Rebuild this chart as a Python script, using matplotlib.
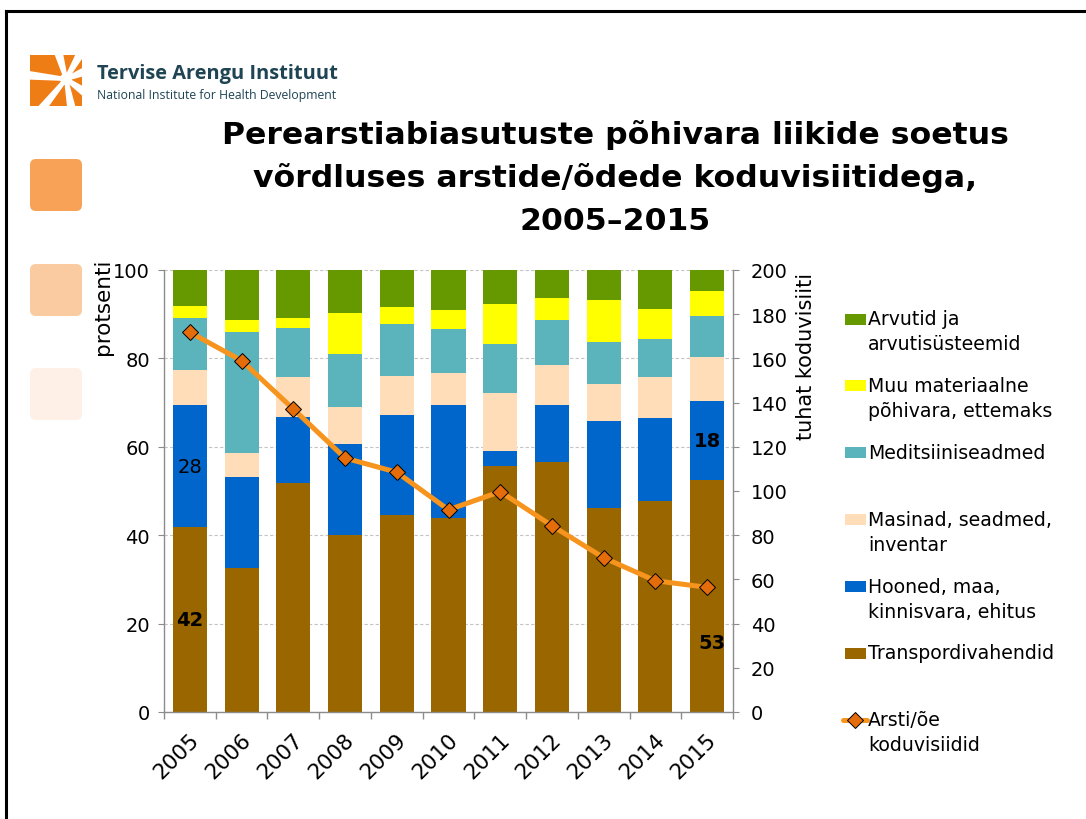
import matplotlib
matplotlib.use('Agg')
import matplotlib.pyplot as plt
import numpy as np
from matplotlib.patches import Rectangle, FancyBboxPatch, Polygon, Circle
from matplotlib.lines import Line2D
from matplotlib.transforms import Affine2D, ScaledTranslation

plt.rcParams['font.family'] = ['DejaVu Sans']

# ---------------- data ----------------
years = ['2005', '2006', '2007', '2008', '2009', '2010', '2011', '2012', '2013', '2014', '2015']
transport = [41.8, 32.6, 51.9, 40.0, 44.5, 43.8, 55.6, 56.5, 46.2, 47.8, 52.6]
hooned    = [27.7, 20.6, 14.8, 20.7, 22.8, 25.7, 3.4, 13.0, 19.7, 18.7, 17.8]
masinad   = [7.9, 5.3, 9.2, 8.4, 8.8, 7.1, 13.2, 9.1, 8.2, 9.2, 9.9]
meditsiin = [11.7, 27.5, 11.0, 11.9, 11.6, 10.1, 11.1, 10.0, 9.6, 8.6, 9.3]
muu       = [2.7, 2.8, 2.2, 9.2, 4.0, 4.3, 8.9, 5.0, 9.5, 6.9, 5.6]
arvutid   = [8.2, 11.2, 10.9, 9.8, 8.3, 9.0, 7.8, 6.4, 6.8, 8.8, 4.8]
visits    = [171.8, 159.0, 137.1, 114.9, 108.5, 91.5, 99.7, 84.3, 69.8, 59.4, 56.4]

series_names = ['Transpordivahendid', 'Hooned, maa,\nkinnisvara, ehitus', 'Masinad, seadmed,\ninventar',
                'Meditsiiniseadmed', 'Muu materiaalne\npõhivara, ettemaks', 'Arvutid ja\narvutisüsteemid']
line_name = 'Arsti/õe\nkoduvisiidid'
title_lines = ['Perearstiabiasutuste põhivara liikide soetus',
               'võrdluses arstide/õdede koduvisiitidega,',
               '2005–2015']

colors = ['#996600', '#0066CC', '#FFDDB9', '#5BB4BC', '#FFFF00', '#669900']
line_color = '#F7941D'
marker_color = '#E46C0A'

# ---------------- figure ----------------
W, H = 1086, 820
fig = plt.figure(figsize=(W / 100, H / 100), dpi=100)
fig.patch.set_facecolor('white')
px = Affine2D().scale(1 / W, -1 / H).translate(0, 1) + fig.transFigure

def fit(t, target_w):
    r = fig.canvas.get_renderer()
    w = t.get_window_extent(r).width
    t.set_fontsize(t.get_fontsize() * target_w / w)

# slide frame
fig.add_artist(Line2D([6, W], [12, 12], transform=px, color='black', lw=2.2))
fig.add_artist(Line2D([6, 6], [12, H], transform=px, color='black', lw=2.2))

# logo graphic
logo_box = Rectangle((30, 56), 52, 51, transform=px, facecolor='#EF7D16', edgecolor='none')
fig.add_artist(logo_box)
cx, cy = 66, 80
for ex, ey in [(26, 76), (40, 112), (72, 112), (86, 94), (86, 72), (82, 52), (58, 52)]:
    d = np.array([ex - cx, ey - cy], float)
    d /= np.hypot(*d)
    nx, ny = -d[1], d[0]
    w_in, w_out = 2.0, 4.5
    poly = Polygon([(cx + nx * w_in, cy + ny * w_in), (ex + nx * w_out, ey + ny * w_out),
                    (ex - nx * w_out, ey - ny * w_out), (cx - nx * w_in, cy - ny * w_in)],
                   closed=True, transform=px, facecolor='white', edgecolor='none')
    fig.add_artist(poly)
    poly.set_clip_path(logo_box)
fig.add_artist(Circle((cx, cy), 6, transform=px, facecolor='white', edgecolor='none'))
t1 = fig.text(97, 79, 'Tervise Arengu Instituut', transform=px, fontsize=14, fontweight='bold',
              color='#1F4454', family='Open Sans', va='baseline', ha='left')
fit(t1, 242)
t2 = fig.text(97, 99, 'National Institute for Health Development', transform=px, fontsize=8,
              color='#1F4454', family='Open Sans', va='baseline', ha='left')
fit(t2, 241)

# decorative rounded squares
for (y0, c) in [(160, '#F7A257'), (265, '#FACBA0'), (369, '#FEF0E6')]:
    fig.add_artist(FancyBboxPatch((30 + 5, y0 + 5), 52 - 10, 52 - 10,
                                  boxstyle='round,pad=5,rounding_size=6', transform=px,
                                  facecolor=c, edgecolor='none'))

# title
tt = []
for i, (line, yb) in enumerate(zip(title_lines, [144, 187, 230])):
    t = fig.text(615, yb, line, transform=px, fontsize=20, fontweight='bold', ha='center',
                 va='baseline', color='black')
    tt.append(t)
r = fig.canvas.get_renderer()
w0 = tt[0].get_window_extent(r).width
for t in tt:
    t.set_fontsize(20 * 787 / w0)

# ---------------- axes ----------------
ax = fig.add_axes([164 / W, 1 - 713 / H, (733 - 164) / W, (713 - 271) / H])
x = np.arange(len(years))
bottom = np.zeros(len(years))
stack = [transport, hooned, masinad, meditsiin, muu, arvutid]
bottoms = []
for vals, col in zip(stack, colors):
    ax.bar(x, vals, 0.66, bottom=bottom, color=col, edgecolor='none', linewidth=0, zorder=2)
    bottoms.append(bottom.copy())
    bottom += np.array(vals)

ax.set_xlim(-0.5, len(years) - 0.5)
ax.set_ylim(0, 100)
ax.set_yticks(range(0, 101, 20))
ax.yaxis.grid(True, color='#C4C4C4', linestyle=(0, (3, 2)), linewidth=0.8)
ax.set_axisbelow(True)
ax.set_xticks(x)
ax.set_xticklabels(years, rotation=45, ha='right', va='top', rotation_mode='anchor', fontsize=15.5)
ax.set_xticks(np.arange(-0.5, len(years), 1), minor=True)
ax.tick_params(axis='x', which='major', length=0, pad=12)
ax.tick_params(axis='x', which='minor', length=5, color='#8C8C8C', width=1)
ax.tick_params(axis='y', length=4, color='#8C8C8C', labelsize=14, pad=6)
for lab in ax.get_xticklabels():
    lab.set_transform(lab.get_transform() + ScaledTranslation(-1 / 100, 0, fig.dpi_scale_trans))
for s in ['top', 'right']:
    ax.spines[s].set_visible(False)
for s in ['left', 'bottom']:
    ax.spines[s].set_color('#8C8C8C')
    ax.spines[s].set_linewidth(1)

# value labels
ax.text(0, transport[0] / 2, f'{round(transport[0])}', ha='center', va='center', fontsize=14,
        fontweight='bold', zorder=5)
ax.text(0, bottoms[1][0] + hooned[0] / 2, f'{round(hooned[0])}', ha='center', va='center',
        fontsize=14, zorder=5)
ax.text(10, bottoms[1][10] + hooned[10] / 2, f'{round(hooned[10])}', ha='center', va='center',
        fontsize=14, fontweight='bold', zorder=5)
ax.text(10.1, transport[10] * 0.3, f'{round(transport[10])}', ha='center', va='center',
        fontsize=14, fontweight='bold', zorder=5)

ax2 = ax.twinx()
ax2.plot(x, visits, color=line_color, lw=3.6, marker='D', ms=8.5, mfc=marker_color,
         mec='black', mew=0.7, solid_joinstyle='round', zorder=6)
ax2.set_ylim(0, 200)
ax2.set_yticks(range(0, 201, 20))
ax2.tick_params(axis='y', length=4, color='#8C8C8C', labelsize=14, pad=9)
for s in ['top', 'left', 'bottom']:
    ax2.spines[s].set_visible(False)
ax2.spines['right'].set_color('#8C8C8C')
ax2.spines['right'].set_linewidth(1)

# axis titles
fig.text(103, 307, 'protsenti', transform=px, rotation=90, ha='center', va='center', fontsize=15.5)
fig.text(806, 356, 'tuhat koduvisiiti', transform=px, rotation=90, ha='center', va='center', fontsize=15)

# ---------------- legend (manual) ----------------
leg_items = list(zip(series_names[::-1], colors[::-1]))
y_first = 320
step = 66.8
leg_texts = []
for i, (name, col) in enumerate(leg_items):
    yc = y_first + i * step
    fig.add_artist(Rectangle((845, yc - 5.5), 21, 11, transform=px, facecolor=col, edgecolor='none'))
    for k, part in enumerate(name.split('\n')):
        t = fig.text(868, yc + k * 25, part, transform=px, ha='left', va='center', fontsize=13)
        leg_texts.append(t)
yc = y_first + len(leg_items) * step
fig.add_artist(Line2D([843, 867], [yc, yc], transform=px, color=line_color, lw=3.6,
                      solid_capstyle='round'))
fig.add_artist(Line2D([855], [yc], transform=px, marker='D', ms=8, mfc=marker_color, mec='black',
                      mew=0.7, linestyle='none'))
for k, part in enumerate(line_name.split('\n')):
    t = fig.text(868, yc + k * 25, part, transform=px, ha='left', va='center', fontsize=13)
    leg_texts.append(t)
# scale legend font to reference width of 'Transpordivahendid'
ref = [t for t in leg_texts if t.get_text() == 'Transpordivahendid'][0]
w = ref.get_window_extent(fig.canvas.get_renderer()).width
sz = 13 * 185 / w
for t in leg_texts:
    t.set_fontsize(sz)

fig.savefig('out.png', dpi=100)
